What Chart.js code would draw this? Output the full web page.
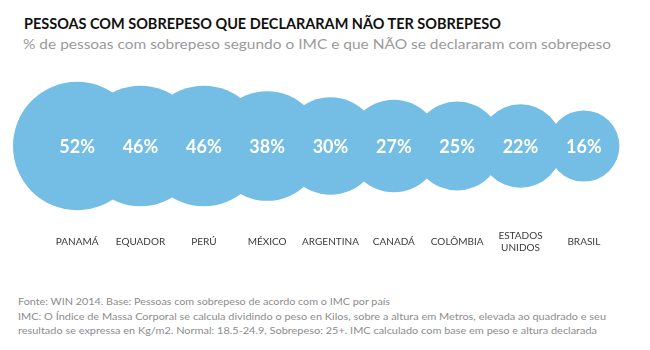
<!DOCTYPE html>
<html>
<head>
<meta charset="utf-8">
<script src="https://cdn.jsdelivr.net/npm/chart.js@4.4.0/dist/chart.umd.min.js"></script>
<style>
  html, body { margin: 0; padding: 0; background: #ffffff; }
  #wrap { position: relative; width: 650px; height: 350px; overflow: hidden; background: #fff; }
  .txt { position: absolute; white-space: nowrap; transform-origin: 0 50%; font-family: Lato, "Open Sans", sans-serif; }
  #title { left: 24px; top: 14px; font-size: 15px; font-weight: 700; color: #111; line-height: 18px; }
  #subtitle { left: 23px; top: 35px; font-size: 14px; color: #9a9a9a; line-height: 18px; }
  .foot { left: 18px; font-size: 10px; color: #8c8c8c; line-height: 14px; }
  #f1 { top: 294px; } #f2 { top: 309px; } #f3 { top: 323px; }
  #cv { position: absolute; left: 0; top: 60px; }
</style>
</head>
<body>
<div id="wrap">
  <span class="txt" id="title" data-w="477">PESSOAS COM SOBREPESO QUE DECLARARAM NÃO TER SOBREPESO</span>
  <span class="txt" id="subtitle" data-w="588">% de pessoas com sobrepeso segundo o IMC e que NÃO se declararam com sobrepeso</span>
  <span class="txt foot" id="f1" data-w="372">Fonte: WIN 2014. Base: Pessoas com sobrepeso de acordo com o IMC por país</span>
  <span class="txt foot" id="f2" data-w="588">IMC: O  Índice de Massa Corporal se calcula dividindo  o peso en Kilos, sobre a altura em Metros, elevada ao quadrado e seu</span>
  <span class="txt foot" id="f3" data-w="579">resultado se expressa en Kg/m2. Normal: 18.5-24.9,  Sobrepeso: 25+. IMC calculado  com base em peso e altura declarada</span>
  <canvas id="cv" width="650" height="222"></canvas>
</div>
<script>
// Data
const categories = ["PANAMÁ", "EQUADOR", "PERÚ", "MÉXICO", "ARGENTINA", "CANADÁ", "COLÔMBIA", ["ESTADOS", "UNIDOS"], "BRASIL"];
const values = [52, 46, 46, 38, 30, 27, 25, 22, 16];

// Fit text widths
document.querySelectorAll('.txt').forEach(el => {
  const target = parseFloat(el.dataset.w);
  const w = el.getBoundingClientRect().width;
  if (w > 0) el.style.transform = 'scaleX(' + (target / w) + ')';
});

const sizeK = 8.9;
const bubbleData = values.map((v, i) => ({ x: i, y: 0.5, r: sizeK * Math.sqrt(v) }));

const pctLabels = {
  id: 'pctLabels',
  afterDatasetsDraw(chart) {
    const ctx = chart.ctx;
    const meta = chart.getDatasetMeta(0);
    ctx.save();
    ctx.fillStyle = '#ffffff';
    ctx.font = 'bold 18px Lato, "Open Sans", sans-serif';
    ctx.textAlign = 'center';
    ctx.textBaseline = 'middle';
    meta.data.forEach((el, i) => {
      ctx.fillText(values[i] + '%', el.x, el.y + 1);
    });
    ctx.restore();
  }
};

new Chart(document.getElementById('cv'), {
  type: 'bubble',
  data: {
    labels: categories,
    datasets: [{
      data: bubbleData,
      backgroundColor: '#74BDE5',
      borderWidth: 0,
      hoverBackgroundColor: '#74BDE5',
      hoverBorderWidth: 0,
      hoverRadius: 0,
      clip: false
    }]
  },
  options: {
    responsive: false,
    animation: false,
    events: [],
    layout: { autoPadding: false, padding: { top: 16, bottom: 2, left: 45.5, right: 34.5 } },
    plugins: { legend: { display: false }, tooltip: { enabled: false }, title: { display: false } },
    scales: {
      x: {
        type: 'category',
        labels: categories,
        offset: true,
        grid: { display: false, drawTicks: false },
        border: { display: false },
        ticks: {
          padding: 20,
          crossAlign: 'center',
          maxRotation: 0,
          autoSkip: false,
          color: '#3a3a3a',
          font: { family: 'Lato, "Open Sans", sans-serif', size: 10 }
        }
      },
      y: { display: false, min: 0, max: 1 }
    }
  },
  plugins: [pctLabels]
});
</script>
</body>
</html>
